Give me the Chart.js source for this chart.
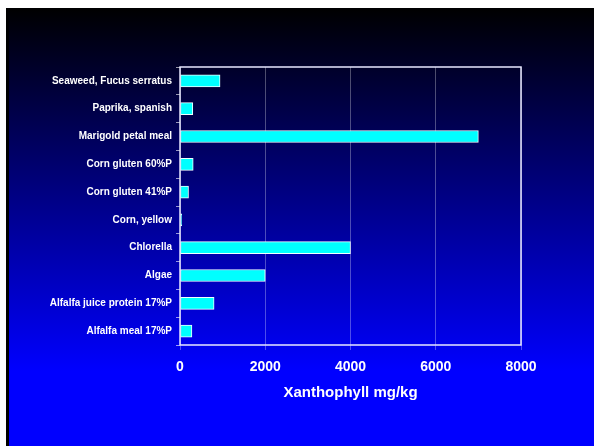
<!DOCTYPE html>
<html>
<head>
<meta charset="utf-8">
<script src="https://cdn.jsdelivr.net/npm/chart.js@4.4.0/dist/chart.umd.min.js"></script>
<style>
  html, body { margin: 0; padding: 0; background: #fff; }
  #bg {
    position: absolute; left: 6px; top: 8px; width: 585px; height: 438px;
    border-left: 3px solid #000;
    background: linear-gradient(to bottom, #000 0%, #0000ff 83%, #0000ff 100%);
  }
  #wrap { position: absolute; left: 0; top: 0; width: 594px; height: 446px; }
</style>
</head>
<body>
<div id="bg"></div>
<div id="wrap"><canvas id="barChart"></canvas></div>
<script>
var categories = ['Seaweed, Fucus serratus', 'Paprika, spanish', 'Marigold petal meal',
    'Corn gluten 60%P', 'Corn gluten 41%P', 'Corn, yellow', 'Chlorella', 'Algae',
    'Alfalfa juice protein 17%P', 'Alfalfa meal 17%P'];
var xanthophyll = [940, 300, 7000, 310, 200, 40, 4000, 2000, 800, 280];
var xTicks = [0, 2000, 4000, 6000, 8000];

// white box round the plot area
var boxPlugin = {
    id: 'box',
    afterDraw: function (chart) {
        var a = chart.chartArea, c = chart.ctx;
        c.save();
        c.strokeStyle = '#e8e8ff';
        c.lineWidth = 1.5;
        c.strokeRect(a.left, a.top, a.right - a.left, a.bottom - a.top);
        c.restore();
    }
};

var ctx = document.getElementById('barChart').getContext('2d');
var myChart = new Chart(ctx, {
    type: 'bar',
    data: {
        labels: categories,
        datasets: [{
            label: 'Xanthophyll',
            data: xanthophyll,
            backgroundColor: '#00ffff',
            borderColor: '#f0ffff',
            borderWidth: 1,
            borderSkipped: false,
            barThickness: 12
        }]
    },
    options: {
        indexAxis: 'y',
        responsive: true,
        maintainAspectRatio: false,
        animation: false,
        layout: {
            padding: { left: 0, right: 73, top: 67, bottom: 0 }
        },
        scales: {
            x: {
                min: 0,
                max: 8000,
                afterBuildTicks: function (scale) {
                    scale.ticks = xTicks.map(function (v) { return { value: v }; });
                },
                afterFit: function (scale) { scale.height = 101; },
                grid: {
                    color: 'rgba(255,255,255,0.3)',
                    tickLength: 5,
                    tickColor: 'rgba(255,255,255,0.3)'
                },
                border: { display: false },
                ticks: {
                    color: 'white',
                    padding: 9,
                    maxRotation: 0,
                    callback: function (v) { return String(v); },
                    font: { family: 'Liberation Sans, Arial', size: 14, weight: 'bold' }
                },
                title: {
                    display: true,
                    text: 'Xanthophyll mg/kg',
                    color: 'white',
                    padding: { top: 4, bottom: 44 },
                    font: { family: 'Liberation Sans, Arial', size: 15, weight: 'bold' }
                }
            },
            y: {
                afterFit: function (scale) { scale.width = 180; },
                grid: {
                    offset: true,
                    drawOnChartArea: false,
                    tickLength: 4,
                    tickColor: 'rgba(255,255,255,0.6)'
                },
                border: { display: false },
                ticks: {
                    color: 'white',
                    padding: 4,
                    font: { family: 'Liberation Sans, Arial', size: 10, weight: 'bold' }
                }
            }
        },
        plugins: {
            legend: { display: false },
            tooltip: { enabled: false }
        }
    },
    plugins: [boxPlugin]
});
</script>
</body>
</html>
